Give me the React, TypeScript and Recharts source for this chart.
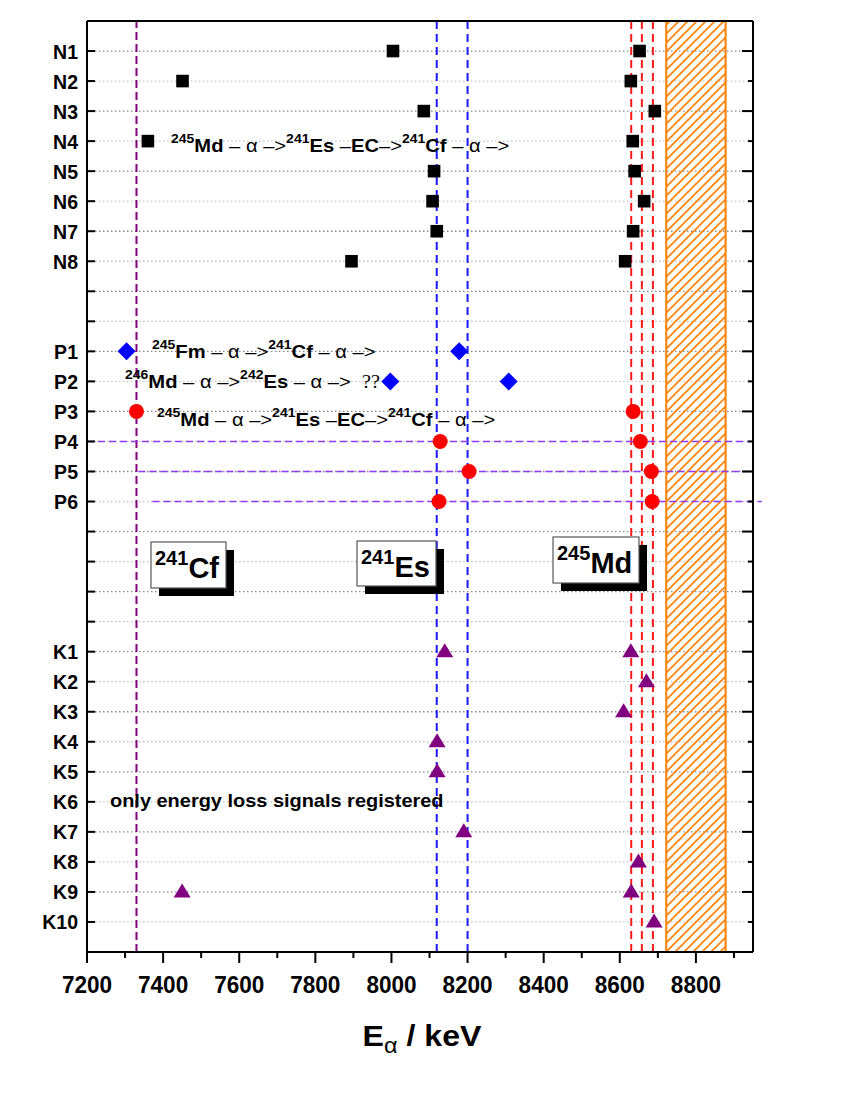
import React from 'react';
import { ScatterChart, Scatter, XAxis, YAxis, CartesianGrid, ReferenceLine, ReferenceArea } from 'recharts';

const FONT = '"Liberation Sans", Arial, Helvetica, sans-serif';

// rows from top to bottom, '' = empty row
const ROW_LABELS = [
  'N1', 'N2', 'N3', 'N4', 'N5', 'N6', 'N7', 'N8', '', '',
  'P1', 'P2', 'P3', 'P4', 'P5', 'P6', '', '', '', '',
  'K1', 'K2', 'K3', 'K4', 'K5', 'K6', 'K7', 'K8', 'K9', 'K10',
];
const ROW_TICKS = ROW_LABELS.map((_, i) => i + 1);
const X_TICKS = [7200, 7300, 7400, 7500, 7600, 7700, 7800, 7900, 8000, 8100, 8200, 8300, 8400, 8500, 8600, 8700, 8800, 8900];

// alpha energies in keV, one list per row
const N_ENERGIES = [[8004, 8652], [7451, 8629], [8085, 8692], [7360, 8634], [8112, 8639], [8108, 8664], [8119, 8635], [7895, 8614]]; // N1..N8
const P_FM_ENERGIES = [[7304, 8178], [7997, 8308]]; // P1..P2
const P_MD_ENERGIES = [[7330, 8635], [8128, 8654], [8204, 8683], [8125, 8685]]; // P3..P6
const K_ENERGIES = [[8140, 8629], [8670], [8610], [8120], [8120], [], [8190], [8649], [7450, 8630], [8690]]; // K1..K10

const CF_LINES = [7330];
const ES_LINES = [8119, 8200];
const MD_LINES = [8630, 8658, 8687];
const HATCH_RANGE = [8722, 8878];

// dashed energy-loss lines
const LOSS_ROWS = ['P4', 'P5', 'P6'];
const LOSS_FROM = [7200, 7335, 7372];
const LOSS_TO = [8941, 8941, 8973];

const rowOf = (label: string) => ROW_LABELS.indexOf(label) + 1;
const toPoints = (prefix: string, first: number, rows: number[][]) =>
  rows.flatMap((es, i) => es.map((e) => ({ e, row: rowOf(prefix + (first + i)) })));

const squarePts = toPoints('N', 1, N_ENERGIES);
const diamondPts = toPoints('P', 1, P_FM_ENERGIES);
const circlePts = toPoints('P', 3, P_MD_ENERGIES);
const trianglePts = toPoints('K', 1, K_ENERGIES);

type Part = [string, 'sup' | 'b' | 'r' | 'q'];
const MD245_CHAIN: Part[] = [['245', 'sup'], ['Md', 'b'], [' – α –>', 'r'], ['241', 'sup'], ['Es', 'b'], [' –', 'r'], ['EC', 'b'], ['–>', 'r'], ['241', 'sup'], ['Cf', 'b'], [' – α –>', 'r']];
const FM245_CHAIN: Part[] = [['245', 'sup'], ['Fm', 'b'], [' – α –>', 'r'], ['241', 'sup'], ['Cf', 'b'], [' – α –>', 'r']];
const MD246_CHAIN: Part[] = [['246', 'sup'], ['Md', 'b'], [' – α –>', 'r'], ['242', 'sup'], ['Es', 'b'], [' – α –>  ', 'r'], ['??', 'q']];

const Square = (p: any) => <rect x={p.cx - 6.3} y={p.cy - 6.3} width={12.6} height={12.6} fill="#000" />;
const Diamond = (p: any) => (
  <polygon points={`${p.cx},${p.cy - 9} ${p.cx + 9},${p.cy} ${p.cx},${p.cy + 9} ${p.cx - 9},${p.cy}`} fill="#0000ff" />
);
const Dot = (p: any) => <circle cx={p.cx} cy={p.cy} r={7.5} fill="#ff0000" />;
const Triangle = (p: any) => (
  <polygon points={`${p.cx},${p.cy - 8.5} ${p.cx + 8.5},${p.cy + 5.5} ${p.cx - 8.5},${p.cy + 5.5}`} fill="#800080" />
);

const LeftTick = ({ x, y, payload }: any) => (
  <g>
    <line x1={x} x2={x + 8} y1={y} y2={y} stroke="#000" strokeWidth={2} />
    <text transform={`translate(${x - 9},${y + 7.5}) scale(0.93,1)`} textAnchor="end" fontSize={21} fontWeight={700} fontFamily={FONT} fill="#000">
      {ROW_LABELS[payload.value - 1]}
    </text>
  </g>
);
const RightTick = ({ x, y, payload }: any) => (
  <line x1={x} x2={x - (payload.value % 2 === 1 ? 11 : 5)} y1={y} y2={y} stroke="#000" strokeWidth={2} />
);
const TopTick = ({ x, y, payload }: any) => (
  <line x1={x} x2={x} y1={y} y2={y + (payload.value % 200 === 0 ? 11 : 5)} stroke="#000" strokeWidth={2} />
);
const BottomTick = ({ x, y, payload }: any) => {
  const major = payload.value % 200 === 0;
  return (
    <g>
      <line x1={x} x2={x} y1={y} y2={y + (major ? 11 : 6)} stroke="#000" strokeWidth={2} />
      {major && (
        <text transform={`translate(${x},${y + 40.5}) scale(0.98,1)`} textAnchor="middle" fontSize={23} fontWeight={700} fontFamily={FONT} fill="#000">
          {payload.value}
        </text>
      )}
    </g>
  );
};

const GridLine = (p: any) => (
  <line
    key={p.key}
    x1={p.x1}
    x2={p.x2}
    y1={p.y1}
    y2={p.y2}
    stroke={p.index % 2 === 0 ? '#8a8a8a' : '#c2c2c2'}
    strokeWidth={1.3}
    strokeDasharray="1.5 2.5"
  />
);

const ChainText = ({ x, y, parts, sx = 1.12 }: { x: number; y: number; parts: Part[]; sx?: number }) => {
  let cur = 0;
  return (
    <text transform={`translate(${x},${y}) scale(${sx},1)`} style={{ whiteSpace: 'pre' }} fontFamily={FONT} fill="#000">
      {parts.map(([t, k], i) => {
        const target = k === 'sup' ? -9 : 0;
        const dy = target - cur;
        cur = target;
        return (
          <tspan
            key={i}
            dy={dy}
            fontSize={k === 'sup' ? 12.5 : 18}
            fontWeight={k === 'b' || k === 'sup' ? 700 : 400}
            fontFamily={k === 'q' ? '"Liberation Serif", serif' : FONT}
          >
            {t}
          </tspan>
        );
      })}
    </text>
  );
};

const IsoBox = ({ x, y, w, h, mass, sym, base }: any) => (
  <g>
    <rect x={x + 8} y={y + 8} width={w} height={h} fill="#000" />
    <rect x={x} y={y} width={w} height={h} fill="#fff" stroke="#555" strokeWidth={1.2} />
    <text x={x + 4} y={base} fontFamily={FONT} fontWeight={700} fill="#000">
      <tspan fontSize={20} dy={-13}>{mass}</tspan>
      <tspan fontSize={29} dy={13}>{sym}</tspan>
    </text>
  </g>
);

export default function App() {
  return (
    <div style={{ position: 'relative', width: 842, height: 1092, fontFamily: FONT }}>
      <ScatterChart width={842} height={1090} margin={{ top: 10, right: 95, bottom: 36, left: 0 }}>
        <CartesianGrid vertical={false} horizontal={GridLine} />
        <XAxis
          dataKey="e"
          type="number"
          domain={[7200, 8950]}
          allowDataOverflow
          ticks={X_TICKS}
          interval={0}
          height={110}
          tickSize={0}
          tickMargin={0}
          tickLine={false}
          tick={BottomTick}
          axisLine={{ stroke: '#000', strokeWidth: 2 }}
        />
        <XAxis
          xAxisId="top"
          orientation="top"
          type="number"
          domain={[7200, 8950]}
          allowDataOverflow
          ticks={X_TICKS}
          interval={0}
          height={3}
          tickSize={0}
          tickMargin={0}
          tickLine={false}
          tick={TopTick}
          axisLine={{ stroke: '#000', strokeWidth: 2 }}
        />
        <YAxis
          dataKey="row"
          type="number"
          domain={[0, 31]}
          reversed
          allowDataOverflow
          ticks={ROW_TICKS}
          interval={0}
          width={79}
          tickSize={0}
          tickMargin={0}
          tickLine={false}
          tick={LeftTick}
          axisLine={{ stroke: '#000', strokeWidth: 2 }}
        />
        <YAxis
          yAxisId="right"
          orientation="right"
          type="number"
          domain={[0, 31]}
          reversed
          allowDataOverflow
          ticks={ROW_TICKS}
          interval={0}
          width={2}
          tickSize={0}
          tickMargin={0}
          tickLine={false}
          tick={RightTick}
          axisLine={{ stroke: '#000', strokeWidth: 2 }}
        />
        <ReferenceArea x1={HATCH_RANGE[0]} x2={HATCH_RANGE[1]} fill="url(#hatch)" fillOpacity={1} stroke="#ff8000" strokeWidth={2} />
        {MD_LINES.map((v) => (
          <ReferenceLine key={`md${v}`} x={v} stroke="#ff1a1a" strokeWidth={2} strokeDasharray="8 5" />
        ))}
        <Scatter data={squarePts} shape={Square} isAnimationActive={false} />
        <Scatter data={diamondPts} shape={Diamond} isAnimationActive={false} />
        <Scatter data={circlePts} shape={Dot} isAnimationActive={false} />
        <Scatter data={trianglePts} shape={Triangle} isAnimationActive={false} />
        {CF_LINES.map((v) => (
          <ReferenceLine key={`cf${v}`} x={v} stroke="#800080" strokeWidth={2} strokeDasharray="8 4" />
        ))}
        {ES_LINES.map((v) => (
          <ReferenceLine key={`es${v}`} x={v} stroke="#1a1aff" strokeWidth={2} strokeDasharray="8 5" />
        ))}
        {LOSS_ROWS.map((r, i) => (
          <ReferenceLine
            key={`loss${r}`}
            segment={[{ x: LOSS_FROM[i], y: rowOf(r) }, { x: LOSS_TO[i], y: rowOf(r) }]}
            ifOverflow="visible"
            stroke="#8f3cf5"
            strokeWidth={1.5}
            strokeDasharray="7 4"
          />
        ))}
      </ScatterChart>
      <svg width={842} height={1092} style={{ position: 'absolute', left: 0, top: 0, pointerEvents: 'none' }}>
        <defs>
          <pattern id="hatch" patternUnits="userSpaceOnUse" width={9} height={9}>
            <path d="M-2,2 L2,-2 M0,9 L9,0 M7,11 L11,7" stroke="#ff8000" strokeWidth={1.6} />
          </pattern>
        </defs>
        <g transform="translate(-8,-8)">
          <ChainText x={171} y={152} parts={MD245_CHAIN} />
          <ChainText x={152} y={357.5} parts={FM245_CHAIN} />
          <ChainText x={125} y={388} parts={MD246_CHAIN} />
          <ChainText x={157} y={426} parts={MD245_CHAIN} />
          <text transform="translate(110,807) scale(1.05,1)" fontSize={19} fontWeight={700} fontFamily={FONT} fill="#000">
            only energy loss signals registered
          </text>
          <IsoBox x={151} y={542} w={75} h={46} mass="241" sym="Cf" base={578} />
          <IsoBox x={357} y={541} w={79} h={45} mass="241" sym="Es" base={577} />
          <IsoBox x={553} y={537} w={86} h={46} mass="245" sym="Md" base={573} />
          <text transform="translate(422,1046) scale(1.07,1)" textAnchor="middle" fontFamily={FONT} fill="#000">
            <tspan fontSize={30} fontWeight={700}>E</tspan>
            <tspan fontSize={22} dy={7}>α</tspan>
            <tspan fontSize={30} fontWeight={700} dy={-7}> / keV</tspan>
          </text>
        </g>
      </svg>
    </div>
  );
}
